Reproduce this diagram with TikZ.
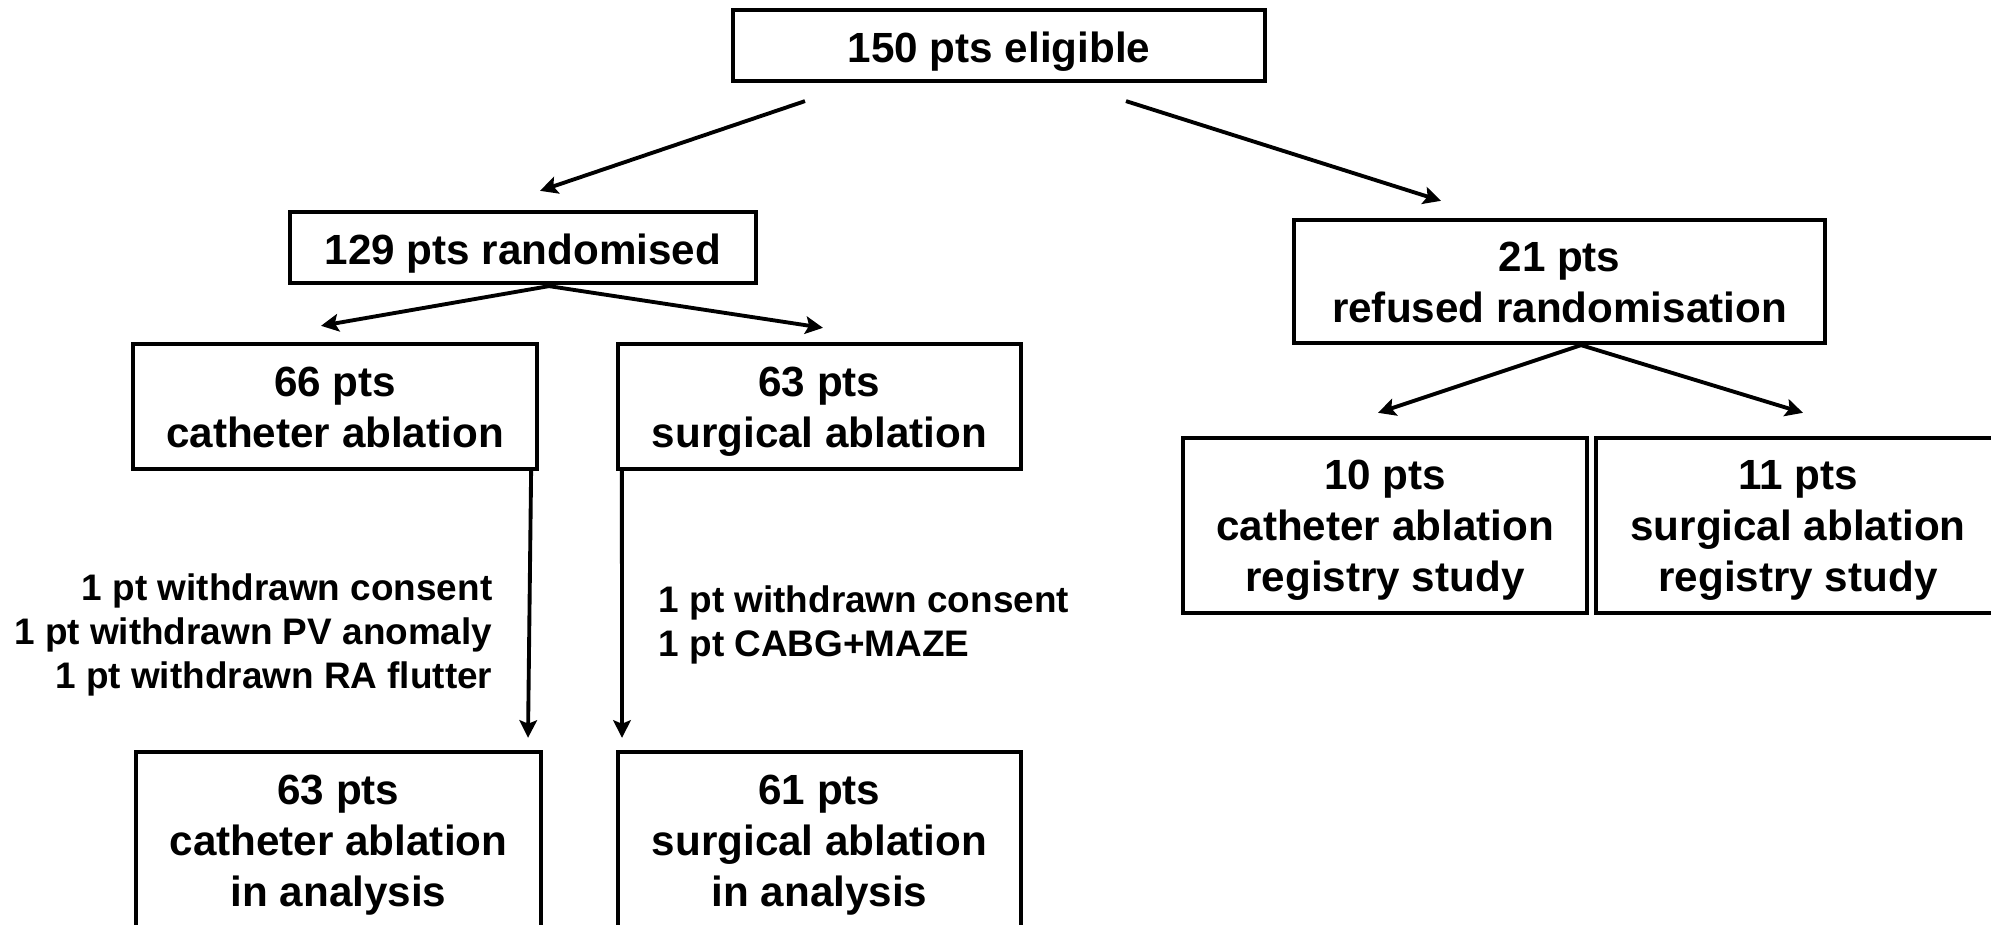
\documentclass[tikz,border=0pt]{standalone}
\usepackage{fontspec}
\setmainfont{Liberation Sans}
\usetikzlibrary{arrows.meta}

\begin{document}
\begin{tikzpicture}[x=0.01cm,y=0.01cm,
        box/.style={draw,line width=1.2pt,align=center,inner sep=0pt,
            font=\bfseries\fontsize{12}{14.5}\selectfont,
            execute at begin node={\rule{0pt}{12.5pt}},
            execute at end node={\rule[-2.6pt]{0pt}{0pt}}},
        tallbox/.style={box,execute at begin node={\rule{0pt}{#1}}},
        arr/.style={line width=1.1pt,-{Stealth[length=5pt,width=5pt,inset=1pt]}},
        note/.style={inner sep=0pt,font=\bfseries\fontsize{10.5}{12.5}\selectfont}]
        \useasboundingbox (0,0) rectangle (1991,925);
        % top of the chart
        \node[box,minimum width=5.32cm,minimum height=0.71cm] (elig) at (999,879.5) {150 pts eligible};
        \node[box,minimum width=4.66cm,minimum height=0.71cm] (rand) at (523,677.5) {129 pts randomised};
        \node[tallbox=25.9pt,minimum width=5.31cm,minimum height=1.23cm] (refused) at (1559.5,643.5) {21 pts\\refused randomisation};
        % randomised arms
        \node[tallbox=25.9pt,minimum width=4.04cm,minimum height=1.25cm] (cath) at (335,518.5) {66 pts\\catheter ablation};
        \node[tallbox=25.9pt,minimum width=4.03cm,minimum height=1.25cm] (surg) at (819.5,518.5) {63 pts\\surgical ablation};
        % registry
        \node[tallbox=40.4pt,minimum width=4.04cm,minimum height=1.75cm] (creg) at (1385,399.5) {10 pts\\catheter ablation\\registry study};
        \node[tallbox=40.4pt,minimum width=4.04cm,minimum height=1.75cm] (sreg) at (1798,399.5) {11 pts\\surgical ablation\\registry study};
        % analysis
        \node[tallbox=39.6pt,minimum width=4.05cm,minimum height=1.78cm] (cana) at (338.5,84) {63 pts\\catheter ablation\\in analysis};
        \node[tallbox=39.6pt,minimum width=4.03cm,minimum height=1.78cm] (sana) at (819.5,84) {61 pts\\surgical ablation\\in analysis};
        % drop outs
        \node[note,anchor=east,align=right] (cathout) at (493,290) {1 pt withdrawn consent\\1 pt withdrawn PV anomaly\\1 pt withdrawn RA flutter};
        \node[note,anchor=west,align=left] (surgout) at (658,300.5) {1 pt withdrawn consent\\1 pt CABG+MAZE};

        \draw[arr] ([shift={(-194,-18)}]elig.south) -- ([shift={(17,19)}]rand.north);
        \draw[arr] ([shift={(127,-18)}]elig.south) -- ([shift={(-118.5,17)}]refused.north);
        \draw[arr] ([shift={(26,-1)}]rand.south) -- ([shift={(-14,16)}]cath.north);
        \draw[arr] ([shift={(26,-1)}]rand.south) -- ([shift={(3.5,14)}]surg.north);
        \draw[arr] ([shift={(21.5,0)}]refused.south) -- ([shift={(-7,23)}]creg.north);
        \draw[arr] ([shift={(21.5,0)}]refused.south) -- ([shift={(5,23)}]sreg.north);
        \draw[arr] ([xshift=1.96cm]cath.south) -- ([shift={(189.5,12)}]cana.north);
        \draw[arr] ([xshift=-1.975cm]surg.south) -- ([shift={(-197.5,12)}]sana.north);
    \end{tikzpicture}
\end{document}
